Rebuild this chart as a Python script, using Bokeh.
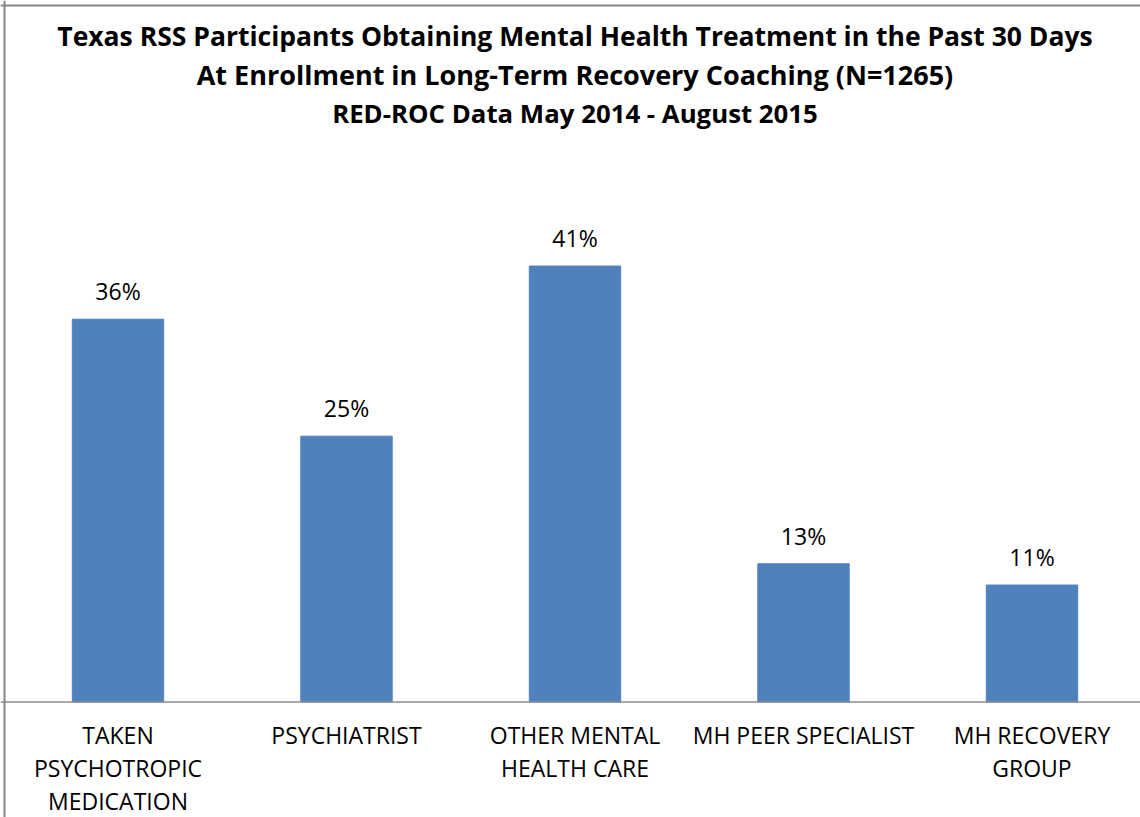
from bokeh.plotting import figure
from bokeh.models import Range1d, Span, ColumnDataSource
from bokeh.core.properties import value
from bokeh.embed import file_html
from bokeh.resources import INLINE

# ---- data ----
categories = [
    "TAKEN\nPSYCHOTROPIC\nMEDICATION",
    "PSYCHIATRIST",
    "OTHER MENTAL\nHEALTH CARE",
    "MH PEER SPECIALIST",
    "MH RECOVERY\nGROUP",
]
percent = [36, 25, 41, 13, 11]
value_labels = ["36%", "25%", "41%", "13%", "11%"]
title_lines = [
    "Texas RSS Participants Obtaining Mental Health Treatment in the Past 30 Days",
    "At Enrollment in Long-Term Recovery Coaching (N=1265)",
    "RED-ROC Data May 2014 - August 2015",
]

# ---- layout ----
W, H = 1140, 817
PX_PER_CAT = 228.5
FIRST_CENTER = 117.5          # canvas px
PX_PER_PCT = 10.633
BASE_Y = 701.5                # canvas px of the 0 line

x_start = -FIRST_CENTER / PX_PER_CAT
x_end = (W - FIRST_CENTER) / PX_PER_CAT
y_end = BASE_Y / PX_PER_PCT
y_start = -(H - BASE_Y) / PX_PER_PCT


def ydata(canvas_y):
    return (BASE_Y - canvas_y) / PX_PER_PCT


FONT = "Open Sans"
BLUE = "#4F81BD"
GRAY = "#868686"

p = figure(width=W, height=H, output_backend="svg", toolbar_location=None,
           x_range=Range1d(x_start, x_end), y_range=Range1d(y_start, y_end),
           min_border=0, min_border_left=0, min_border_right=0,
           min_border_top=0, min_border_bottom=0)
p.axis.visible = False
p.grid.visible = False
p.outline_line_color = None
p.background_fill_color = "white"
p.border_fill_color = "white"

idx = list(range(len(categories)))
src = ColumnDataSource(dict(x=idx, top=percent, lab=value_labels))

p.vbar(x="x", top="top", bottom=0, width=0.4, source=src,
       fill_color=BLUE, line_color=BLUE, line_width=1)

# value labels
p.text(x="x", y="top", text="lab", source=src, y_offset=-28,
       text_align="center", text_baseline="middle",
       text_font=value(FONT), text_font_size="23px", text_color="black")

# category labels (one row per text line)
LINE_1_Y = 734.5
LINE_STEP = 32.8
cx, cy, ct = [], [], []
for i, c in enumerate(categories):
    for j, line in enumerate(c.split("\n")):
        cx.append(i)
        cy.append(ydata(LINE_1_Y + LINE_STEP * j))
        ct.append(line)
p.text(x=cx, y=cy, text=ct, text_align="center", text_baseline="middle",
       text_font=value(FONT), text_font_size="23px", text_color="black")

# baseline
p.add_layout(Span(location=0, dimension="width", line_color="#8c8c8c", line_width=1.5))
# chart border (left / top)
p.add_layout(Span(location=x_start + 4.0 / PX_PER_CAT, dimension="height",
                  line_color=GRAY, line_width=2))
p.add_layout(Span(location=ydata(5), dimension="width",
                  line_color=GRAY, line_width=2))

# title
mid = (len(categories) - 1) / 2
title_y = [35.5, 74, 112]
title_sizes = ["26.5px", "27px", "25.8px"]
for t, ty, fs in zip(title_lines, title_y, title_sizes):
    p.text(x=[mid], y=[ydata(ty)], text=[t], text_align="center",
           text_baseline="middle", text_font=value(FONT),
           text_font_style="bold", text_font_size=fs, text_color="black")

open("out.html", "w").write(file_html(p, INLINE))
